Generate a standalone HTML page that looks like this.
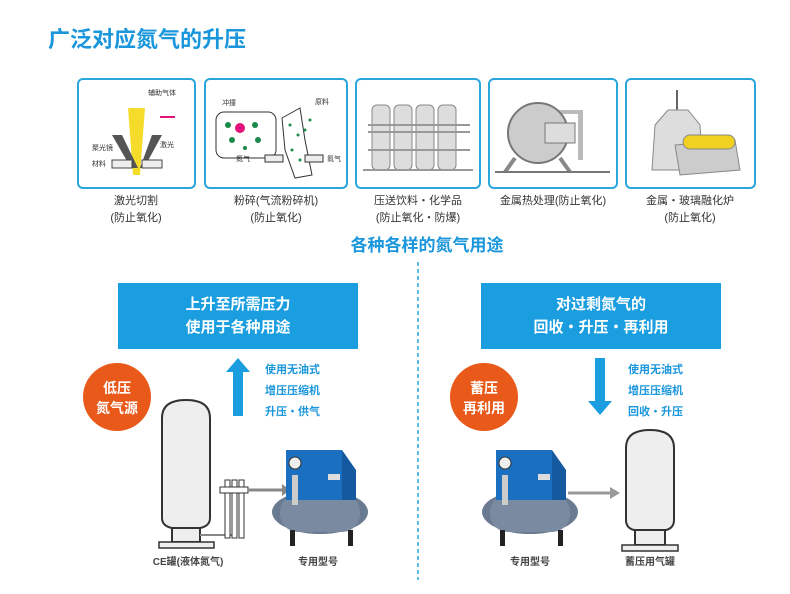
<!DOCTYPE html>
<html><head><meta charset="utf-8"><style>
body{margin:0;background:#fff;}
svg{display:block;font-family:"Liberation Sans","Noto Sans CJK SC",sans-serif;}
</style></head><body>
<svg width="790" height="594" viewBox="0 0 790 594" xmlns="http://www.w3.org/2000/svg">
<text x="48" y="47" font-size="22" font-weight="bold" fill="#1a96dc">广泛对应氮气的升压</text>
<g fill="#fff" stroke="#29a6dc" stroke-width="2">
<rect x="78" y="79" width="117" height="109" rx="5"/>
<rect x="205" y="79" width="142" height="109" rx="5"/>
<rect x="356" y="79" width="124" height="109" rx="5"/>
<rect x="489" y="79" width="128" height="109" rx="5"/>
<rect x="626" y="79" width="129" height="109" rx="5"/>
</g>
<polygon points="128,108 145,108 140,175 133,175" fill="#f5dc2a"/>
<polygon points="112,135 122,135 138,168 131,168" fill="#555"/>
<polygon points="152,135 162,135 144,168 140,168" fill="#555"/>
<rect x="112" y="160" width="20" height="8" fill="#eee" stroke="#444"/>
<rect x="142" y="160" width="20" height="8" fill="#eee" stroke="#444"/>
<line x1="160" y1="117" x2="175" y2="117" stroke="#e0147a" stroke-width="2"/>
<g font-size="7" fill="#333"><text x="148" y="95">辅助气体</text><text x="92" y="150">聚光镜</text><text x="160" y="147">激光</text><text x="92" y="166">材料</text></g>
<rect x="216" y="112" width="60" height="46" rx="8" fill="#fff" stroke="#333"/>
<circle cx="240" cy="128" r="5" fill="#e0147a"/>
<g fill="#1a8a4a"><circle cx="228" cy="125" r="3"/><circle cx="255" cy="125" r="3"/><circle cx="232" cy="140" r="3"/><circle cx="258" cy="140" r="3"/><circle cx="245" cy="148" r="2"/></g>
<path d="M282 118 L300 108 L305 140 L312 175 L295 178 L285 150 Z" fill="#fff" stroke="#333"/>
<g fill="#1a8a4a"><circle cx="290" cy="125" r="1.5"/><circle cx="298" cy="135" r="1.5"/><circle cx="292" cy="150" r="1.5"/><circle cx="300" cy="160" r="1.5"/><circle cx="305" cy="130" r="1.5"/><circle cx="310" cy="120" r="1.5"/></g>
<rect x="265" y="155" width="18" height="7" fill="#eee" stroke="#333"/><rect x="305" y="155" width="18" height="7" fill="#eee" stroke="#333"/>
<g font-size="7" fill="#333"><text x="222" y="105">冲撞</text><text x="315" y="104">原料</text><text x="236" y="161">氮气</text><text x="327" y="161">氮气</text></g>
<g fill="#ddd" stroke="#888"><rect x="372" y="105" width="18" height="65" rx="5"/><rect x="394" y="105" width="18" height="65" rx="5"/><rect x="416" y="105" width="18" height="65" rx="5"/><rect x="438" y="105" width="18" height="65" rx="5"/></g>
<g stroke="#999" stroke-width="2"><line x1="368" y1="125" x2="470" y2="125"/><line x1="368" y1="132" x2="470" y2="132"/><line x1="368" y1="150" x2="470" y2="150"/><line x1="363" y1="170" x2="473" y2="170"/></g>
<rect x="545" y="110" width="38" height="4" fill="#bbb"/><rect x="578" y="110" width="5" height="50" fill="#bbb"/>
<circle cx="538" cy="133" r="30" fill="#ccc" stroke="#777" stroke-width="2"/>
<rect x="545" y="123" width="30" height="20" fill="#ddd" stroke="#777"/>
<line x1="515" y1="158" x2="505" y2="172" stroke="#888" stroke-width="4"/><line x1="560" y1="158" x2="570" y2="172" stroke="#888" stroke-width="4"/>
<line x1="495" y1="172" x2="610" y2="172" stroke="#777" stroke-width="2"/>
<line x1="677" y1="90" x2="677" y2="110" stroke="#666" stroke-width="2"/>
<polygon points="668,110 688,110 700,125 703,170 652,170 655,125" fill="#ddd" stroke="#888"/>
<polygon points="675,145 735,140 740,170 680,175" fill="#ccc" stroke="#888"/>
<rect x="683" y="135" width="52" height="14" rx="7" fill="#f0d020" stroke="#888"/>
<g font-size="11" fill="#333" text-anchor="middle">
<text x="136" y="204">激光切割</text><text x="136" y="221">(防止氧化)</text>
<text x="276" y="204">粉碎(气流粉碎机)</text><text x="276" y="221">(防止氧化)</text>
<text x="418" y="204">压送饮料・化学品</text><text x="418" y="221">(防止氧化・防爆)</text>
<text x="553" y="204">金属热处理(防止氧化)</text>
<text x="690" y="204">金属・玻璃融化炉</text><text x="690" y="221">(防止氧化)</text>
</g>
<text x="427" y="251" font-size="17" font-weight="bold" fill="#1a96dc" text-anchor="middle">各种各样的氮气用途</text>
<line x1="418" y1="262" x2="418" y2="580" stroke="#29a6dc" stroke-width="1.5" stroke-dasharray="4,3"/>
<rect x="118" y="283" width="240" height="66" fill="#1a9ee0"/>
<rect x="481" y="283" width="240" height="66" fill="#1a9ee0"/>
<g font-size="15" font-weight="bold" fill="#fff" text-anchor="middle">
<text x="238" y="309">上升至所需压力</text><text x="238" y="332">使用于各种用途</text>
<text x="601" y="309">对过剩氮气的</text><text x="601" y="332">回收・升压・再利用</text>
</g>
<polygon points="238,358 250,372 243,372 243,416 233,416 233,372 226,372" fill="#1a9ee0"/>
<polygon points="600,415 612,401 605,401 605,358 595,358 595,401 588,401" fill="#1a9ee0"/>
<g font-size="11" font-weight="bold" fill="#1a96dc">
<text x="265" y="373">使用无油式</text><text x="265" y="394">增压压缩机</text><text x="265" y="415">升压・供气</text>
<text x="628" y="373">使用无油式</text><text x="628" y="394">增压压缩机</text><text x="628" y="415">回收・升压</text>
</g>
<circle cx="117" cy="397" r="34" fill="#e8591a"/><circle cx="484" cy="397" r="34" fill="#e8591a"/>
<g font-size="14" font-weight="bold" fill="#fff" text-anchor="middle">
<text x="117" y="393">低压</text><text x="117" y="413">氮气源</text>
<text x="484" y="393">蓄压</text><text x="484" y="413">再利用</text>
</g>
<path d="M162 518 L162 418 Q162 400 186 400 Q210 400 210 418 L210 518 Q210 526 200 528 L172 528 Q162 526 162 518 Z" fill="#eee" stroke="#333" stroke-width="2"/>
<rect x="172" y="528" width="28" height="14" fill="#eee" stroke="#333" stroke-width="2"/>
<rect x="159" y="542" width="55" height="6" fill="#eee" stroke="#333" stroke-width="1.5"/>
<line x1="200" y1="535" x2="232" y2="535" stroke="#888" stroke-width="2"/>
<g fill="#fff" stroke="#333"><rect x="225" y="480" width="5" height="58"/><rect x="232" y="480" width="5" height="58"/><rect x="239" y="480" width="5" height="58"/><rect x="220" y="487" width="28" height="6"/></g>
<line x1="248" y1="490" x2="282" y2="490" stroke="#888" stroke-width="3"/>
<polygon points="282,484 290,490 282,496" fill="#888"/>
<g id="comp">
<ellipse cx="320" cy="512" rx="48" ry="22" fill="#6a7a90"/>
<rect x="280" y="494" width="80" height="38" rx="18" fill="#7a8aa0"/>
<rect x="286" y="450" width="56" height="50" fill="#1a6fc0"/>
<polygon points="342,450 356,470 356,500 342,500" fill="#155aa0"/>
<circle cx="295" cy="463" r="6" fill="#eee" stroke="#333"/>
<rect x="328" y="474" width="12" height="6" fill="#ddd"/>
<rect x="292" y="475" width="6" height="30" fill="#ccc"/>
<rect x="290" y="530" width="5" height="16" fill="#222"/><rect x="348" y="530" width="5" height="16" fill="#222"/>
</g>
<use href="#comp" transform="translate(210,0)"/>
<line x1="568" y1="493" x2="612" y2="493" stroke="#999" stroke-width="3"/>
<polygon points="610,487 620,493 610,499" fill="#999"/>
<path d="M626 520 L626 448 Q626 430 650 430 Q674 430 674 448 L674 520 Q674 528 666 530 L634 530 Q626 528 626 520 Z" fill="#eee" stroke="#333" stroke-width="2"/>
<rect x="635" y="530" width="30" height="15" fill="#eee" stroke="#333" stroke-width="2"/>
<rect x="622" y="545" width="56" height="6" fill="#eee" stroke="#333" stroke-width="1.5"/>
<g font-size="10" font-weight="bold" fill="#444" text-anchor="middle">
<text x="188" y="565">CE罐(液体氮气)</text><text x="318" y="565">专用型号</text>
<text x="530" y="565">专用型号</text><text x="650" y="565">蓄压用气罐</text>
</g>
</svg>
</body></html>
